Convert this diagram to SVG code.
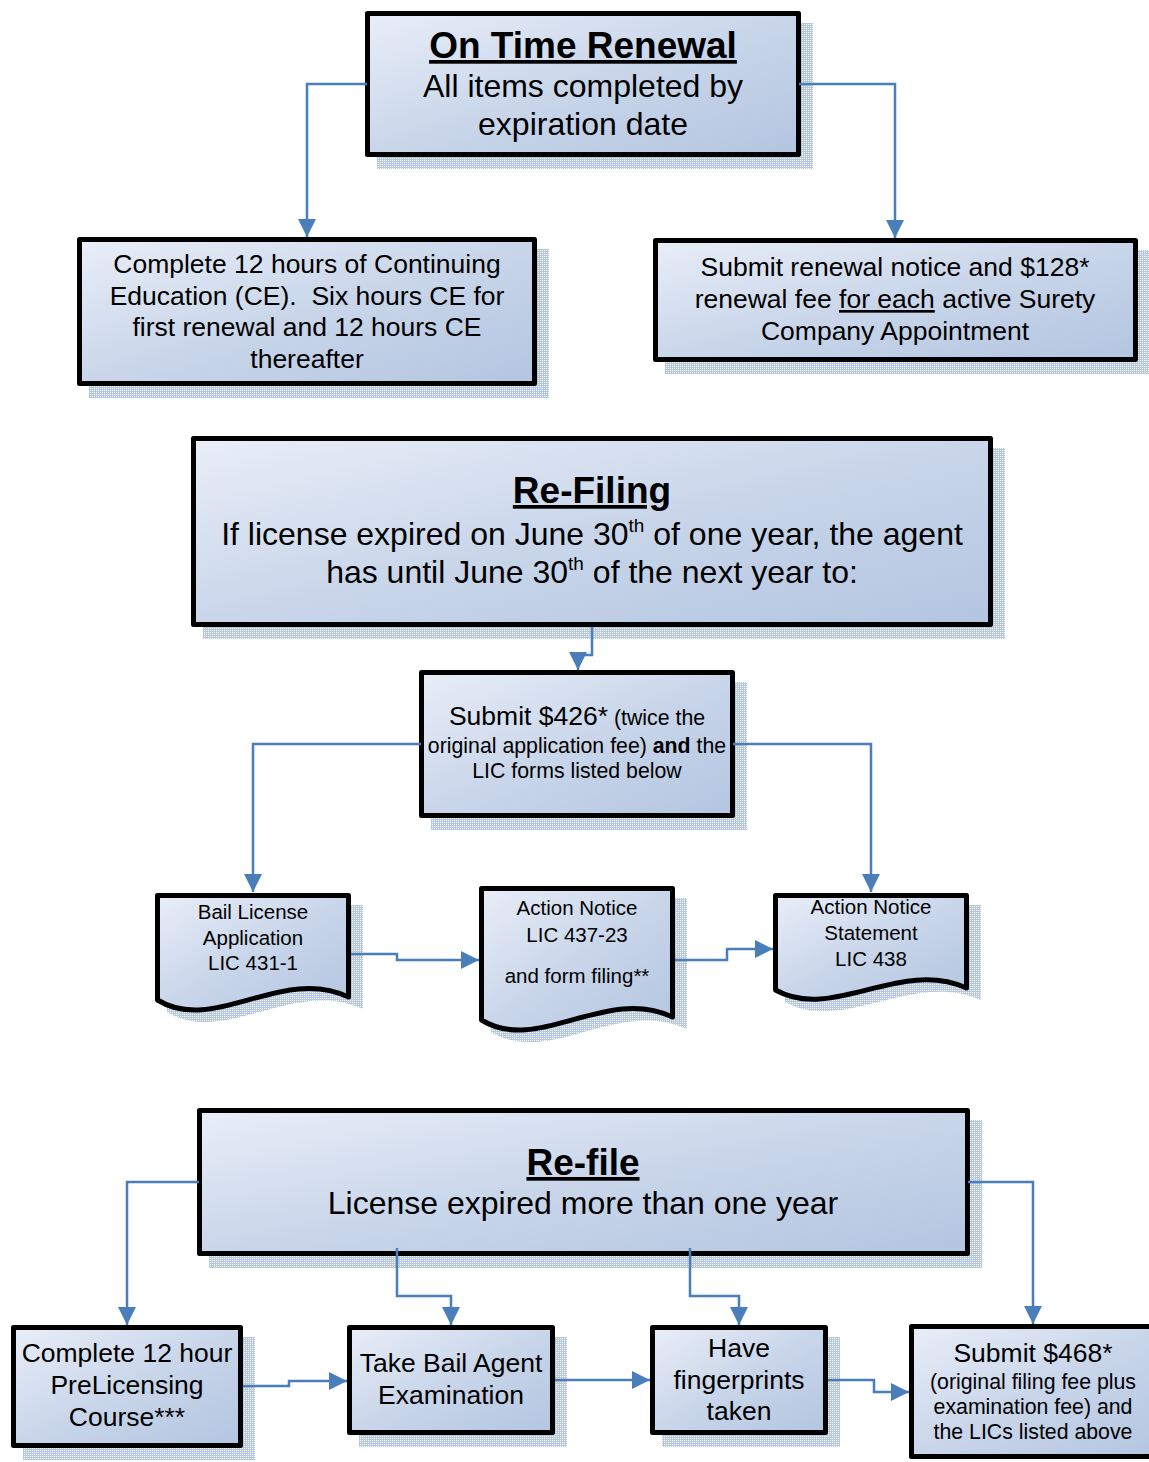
<svg xmlns="http://www.w3.org/2000/svg" width="1149" height="1462" viewBox="0 0 1149 1462">
<defs>
<linearGradient id="fill" x1="0" y1="0" x2="1" y2="1">
<stop offset="0" stop-color="#e9eef8"/>
<stop offset="0.5" stop-color="#c9d6ea"/>
<stop offset="1" stop-color="#b3c5e0"/>
</linearGradient>
<pattern id="dots" width="2" height="2" patternUnits="userSpaceOnUse">
<rect width="2" height="2" fill="#b4c7e7"/>
<rect width="1" height="1" fill="#ffffff"/>
</pattern>
<marker id="arr" markerUnits="userSpaceOnUse" markerWidth="19" markerHeight="19" refX="18" refY="9" orient="auto">
<path d="M0,0 L18,9 L0,18 z" fill="#4a7ebb"/>
</marker>
<style>
.box{fill:url(#fill);stroke:#000;stroke-width:5;stroke-linejoin:round}
.sh{fill:url(#dots);stroke:none}
.t{font-family:"Liberation Sans",Arial,sans-serif;fill:#000;text-anchor:middle}
.ttl{font-weight:bold;font-size:37px;text-decoration:underline}
.c{fill:none;stroke:#4a7ebb;stroke-width:2.5;marker-end:url(#arr)}
</style>
</defs>

<g id="on-time-renewal">
<rect class="sh" x="377" y="23" width="436" height="146"/>
<rect class="box" x="367.5" y="13.5" width="431" height="141"/>
<text class="t ttl" x="583" y="58">On Time Renewal</text>
<text class="t" font-size="32" x="583" y="97">All items completed by</text>
<text class="t" font-size="32" x="583" y="135">expiration date</text>
</g>

<g id="complete-ce">
<rect class="sh" x="89" y="249" width="460" height="149"/>
<rect class="box" x="79.5" y="239.5" width="455" height="144"/>
<text class="t" font-size="26.5" x="307" y="273">Complete 12 hours of Continuing</text>
<text class="t" font-size="26.5" x="307" y="305" xml:space="preserve">Education (CE).  Six hours CE for</text>
<text class="t" font-size="26.5" x="307" y="336">first renewal and 12 hours CE</text>
<text class="t" font-size="26.5" x="307" y="368">thereafter</text>
</g>

<g id="submit-renewal">
<rect class="sh" x="665" y="250" width="485" height="124"/>
<rect class="box" x="655.5" y="240.5" width="480" height="119"/>
<text class="t" font-size="26.5" x="895" y="276">Submit renewal notice and $128*</text>
<text class="t" font-size="26.5" x="895" y="308">renewal fee <tspan text-decoration="underline">for each</tspan> active Surety</text>
<text class="t" font-size="26.5" x="895" y="340">Company Appointment</text>
</g>

<g id="re-filing">
<rect class="sh" x="203" y="448" width="802" height="191"/>
<rect class="box" x="193.5" y="438.5" width="797" height="186"/>
<text class="t ttl" x="592" y="503">Re-Filing</text>
<text class="t" font-size="32" x="592" y="545">If license expired on June 30<tspan font-size="19" dy="-13">th</tspan><tspan dy="13"> of one year, the agent</tspan></text>
<text class="t" font-size="32" x="592" y="583">has until June 30<tspan font-size="19" dy="-13">th</tspan><tspan dy="13"> of the next year to:</tspan></text>
</g>

<g id="submit-426">
<rect class="sh" x="431" y="682" width="316" height="148"/>
<rect class="box" x="421.5" y="672.5" width="311" height="143"/>
<text class="t" font-size="21.3" x="577" y="725"><tspan font-size="26.5">Submit $426*</tspan> (twice the</text>
<text class="t" font-size="21.3" x="577" y="753">original application fee) <tspan font-weight="bold">and</tspan> the</text>
<text class="t" font-size="21.3" x="577" y="778">LIC forms listed below</text>
</g>

<g id="doc-bail-license">
<path class="sh" d="M167,905 H363 V1009 C294,977 226,1047 167,1012 Z"/>
<path class="box" d="M157.5,895.5 H348.5 V997 C282,965 214,1035 157.5,1000 Z"/>
<text class="t" font-size="20.5" x="253" y="919">Bail License</text>
<text class="t" font-size="20.5" x="253" y="945">Application</text>
<text class="t" font-size="20.5" x="253" y="970">LIC 431-1</text>
</g>

<g id="doc-action-notice">
<path class="sh" d="M491,898 H687 V1029 C618,997 550,1067 491,1032 Z"/>
<path class="box" d="M481.5,888.5 H672.5 V1017 C606,985 538,1055 481.5,1020 Z"/>
<text class="t" font-size="20.5" x="577" y="915">Action Notice</text>
<text class="t" font-size="20.5" x="577" y="942">LIC 437-23</text>
<text class="t" font-size="20.5" x="577" y="983">and form filing**</text>
</g>

<g id="doc-action-notice-statement">
<path class="sh" d="M785,905 H981 V1000 C912,970 844,1034 785,1002 Z"/>
<path class="box" d="M775.5,895.5 H966.5 V988 C900,958 832,1022 775.5,990 Z"/>
<text class="t" font-size="20.5" x="871" y="914">Action Notice</text>
<text class="t" font-size="20.5" x="871" y="940">Statement</text>
<text class="t" font-size="20.5" x="871" y="966">LIC 438</text>
</g>

<g id="re-file">
<rect class="sh" x="209" y="1120" width="773" height="148"/>
<rect class="box" x="199.5" y="1110.5" width="768" height="143"/>
<text class="t ttl" x="583" y="1175">Re-file</text>
<text class="t" font-size="32" x="583" y="1214">License expired more than one year</text>
</g>

<g id="prelicensing">
<rect class="sh" x="23" y="1337" width="232" height="123"/>
<rect class="box" x="13.5" y="1327.5" width="227" height="118"/>
<text class="t" font-size="26.5" x="127" y="1362">Complete 12 hour</text>
<text class="t" font-size="26.5" x="127" y="1394">PreLicensing</text>
<text class="t" font-size="26.5" x="127" y="1426">Course***</text>
</g>

<g id="exam">
<rect class="sh" x="359" y="1337" width="208" height="110"/>
<rect class="box" x="349.5" y="1327.5" width="203" height="105"/>
<text class="t" font-size="26.5" x="451" y="1372">Take Bail Agent</text>
<text class="t" font-size="26.5" x="451" y="1404">Examination</text>
</g>

<g id="fingerprints">
<rect class="sh" x="662" y="1337" width="178" height="110"/>
<rect class="box" x="652.5" y="1327.5" width="173" height="105"/>
<text class="t" font-size="26.5" x="739" y="1357">Have</text>
<text class="t" font-size="26.5" x="739" y="1389">fingerprints</text>
<text class="t" font-size="26.5" x="739" y="1420">taken</text>
</g>

<g id="submit-468">
<rect class="box" x="911.5" y="1326.5" width="250" height="130"/>
<text class="t" font-size="26.5" x="1033" y="1362">Submit $468*</text>
<text class="t" font-size="21.3" x="1033" y="1389">(original filing fee plus</text>
<text class="t" font-size="21.3" x="1033" y="1414">examination fee) and</text>
<text class="t" font-size="21.3" x="1033" y="1439">the LICs listed above</text>
</g>

<g id="connectors">
<path class="c" d="M367,84 H307 V237"/>
<path class="c" d="M799,84 H895 V238"/>
<path class="c" d="M592,627 V655 H578 V670"/>
<path class="c" d="M421,744 H253 V892"/>
<path class="c" d="M733,744 H871 V892"/>
<path class="c" d="M351,954 H397 V960 H479"/>
<path class="c" d="M675,960 H727 V949 H773"/>
<path class="c" d="M199,1182 H127 V1325"/>
<path class="c" d="M397,1248 V1296 H451 V1325"/>
<path class="c" d="M690,1248 V1296 H739 V1325"/>
<path class="c" d="M968,1182 H1033 V1324"/>
<path class="c" d="M243,1386 H289 V1381 H347"/>
<path class="c" d="M555,1380 H650"/>
<path class="c" d="M828,1380 H874 V1392 H909"/>
</g>
</svg>
